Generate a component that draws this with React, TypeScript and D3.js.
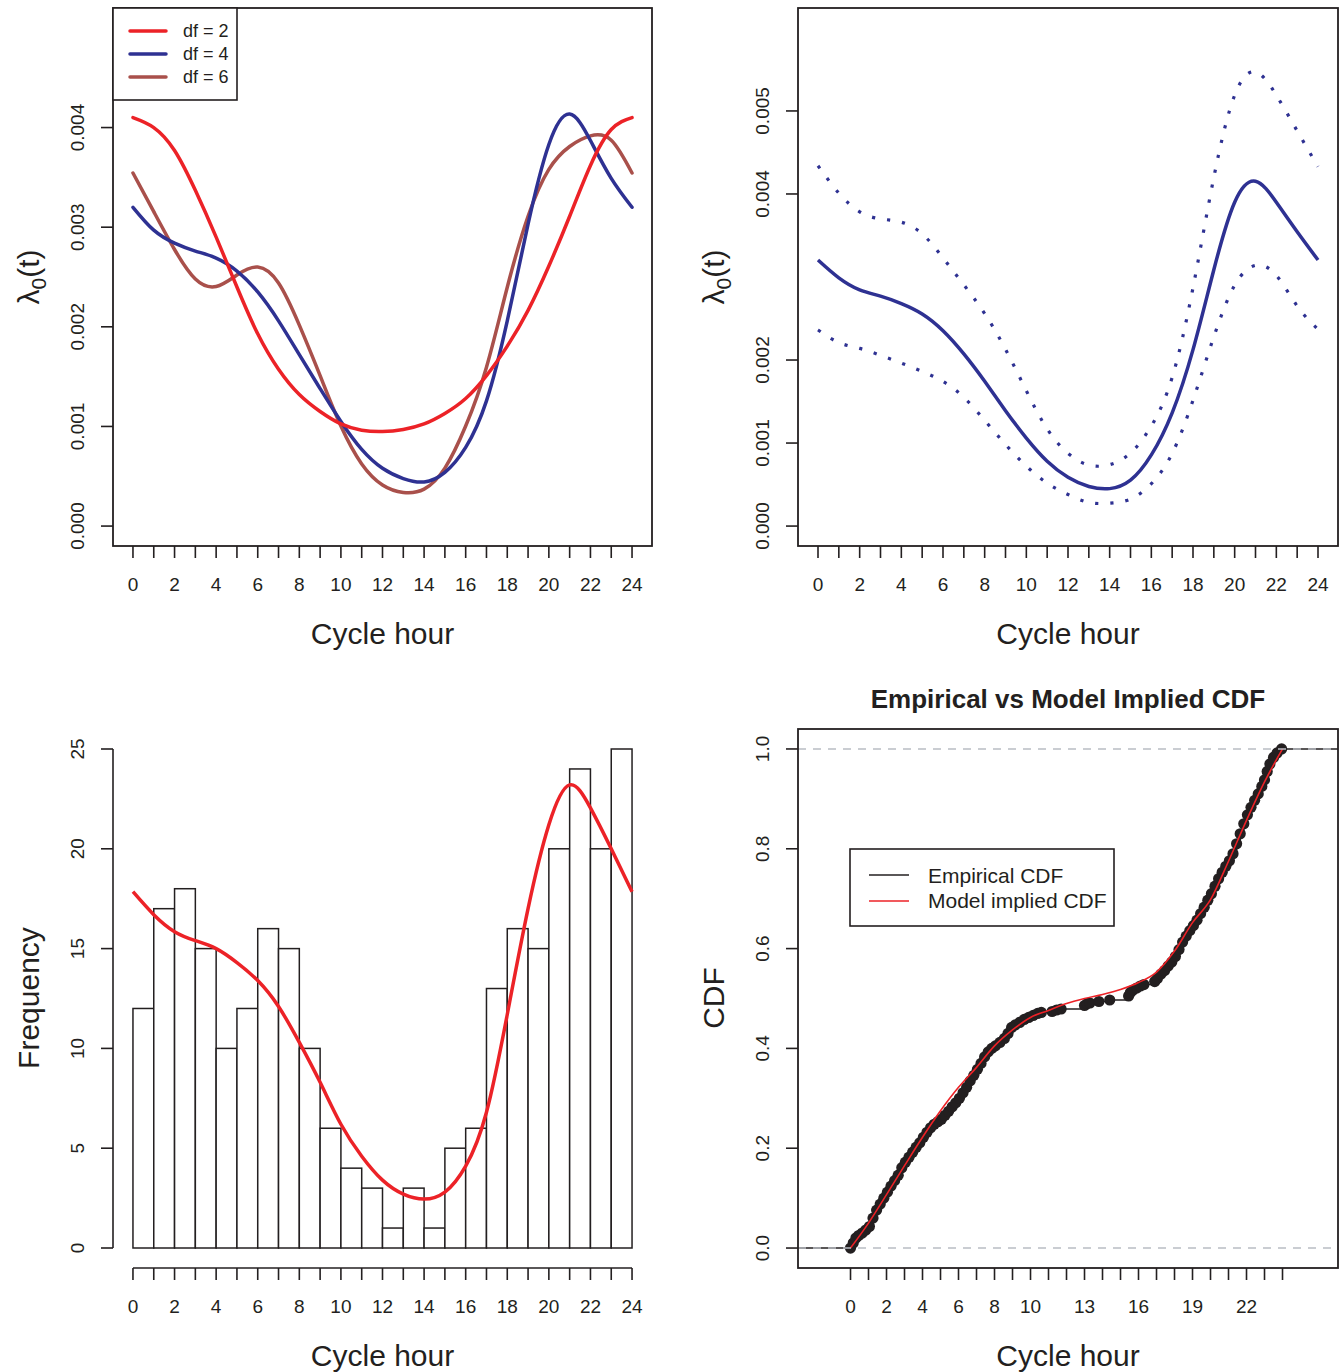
import React from 'react';
import * as d3 from 'd3';

const FONT = '"Liberation Sans", Arial, Helvetica, sans-serif';
const RED = '#EC2227';
const BLUE = '#2E3192';
const BROWN = '#A9504B';
const INK = '#231F20';

// hours 0..24 (tick positions) and which get a label
const hours = [0, 1, 2, 3, 4, 5, 6, 7, 8, 9, 10, 11, 12, 13, 14, 15, 16, 17, 18, 19, 20, 21, 22, 23, 24];
const evenHours = [0, 2, 4, 6, 8, 10, 12, 14, 16, 18, 20, 22, 24];
const cdfHourLabels = [0, 2, 4, 6, 8, 10, 13, 16, 19, 22];

// panel 1: baseline hazard for different df
const lambdaDf2 = [0.00410, 0.00400, 0.00377, 0.00337, 0.00290, 0.00240, 0.00193, 0.001574, 0.00132, 0.00115, 0.001025, 0.000962, 0.000949, 0.00097, 0.001025, 0.00113, 0.00128, 0.00151, 0.001806, 0.002165, 0.00261, 0.00311, 0.00362, 0.00398, 0.00410];
const lambdaDf4 = [0.00320, 0.00297, 0.00284, 0.00276, 0.00269, 0.00256, 0.00235, 0.00206, 0.00172, 0.00138, 0.00105, 0.00077, 0.00058, 0.000477, 0.000443, 0.00054, 0.00079, 0.001257, 0.00206, 0.00303, 0.00383, 0.004135, 0.00387, 0.00349, 0.00320];
const lambdaDf6 = [0.003544, 0.003156, 0.002776, 0.00248, 0.002405, 0.00252, 0.00260, 0.00244, 0.002017, 0.00151, 0.001004, 0.000624, 0.000413, 0.000338, 0.000371, 0.000582, 0.001004, 0.001595, 0.002397, 0.00311, 0.00358, 0.00381, 0.003916, 0.003873, 0.003544];
const lambdaTicks1 = [0, 0.001, 0.002, 0.003, 0.004];

// panel 2: estimate with pointwise band
const lambdaFit = [0.003205, 0.00299, 0.002845, 0.00277, 0.00268, 0.002555, 0.002353, 0.002074, 0.001744, 0.00139, 0.00106, 0.000781, 0.000588, 0.000477, 0.000451, 0.000553, 0.000857, 0.001364, 0.002125, 0.003088, 0.0039, 0.004153, 0.0039, 0.003545, 0.003205];
const lambdaUpper = [0.00434, 0.00401, 0.003785, 0.0037, 0.00366, 0.00352, 0.00323, 0.002905, 0.00256, 0.00213, 0.00163, 0.00117, 0.000877, 0.000735, 0.00074, 0.00088, 0.001205, 0.00179, 0.00287, 0.0042, 0.00519, 0.00547, 0.00519, 0.00476, 0.00433];
const lambdaLower = [0.002363, 0.00221, 0.00214, 0.002057, 0.001963, 0.001862, 0.001742, 0.00155, 0.001273, 0.000983, 0.000722, 0.000517, 0.00038, 0.000285, 0.000276, 0.000325, 0.00051, 0.000875, 0.001515, 0.00228, 0.0029, 0.00314, 0.00302, 0.00265, 0.00237];
const lambdaTicks2 = [0, 0.001, 0.002, 0.004, 0.005];

// panel 3: histogram of event hours, one count per hour bin
const binCounts = [12, 17, 18, 15, 10, 12, 16, 15, 10, 6, 4, 3, 1, 3, 1, 5, 6, 13, 16, 15, 20, 24, 20, 25];
const fittedFreq = [17.85, 16.7, 15.85, 15.4, 15.0, 14.3, 13.4, 12.1, 10.3, 8.3, 6.2, 4.6, 3.4, 2.7, 2.45, 2.8, 4.1, 6.8, 11.7, 17.0, 21.2, 23.2, 22.05, 20.0, 17.85];
const freqTicks = [0, 5, 10, 15, 20, 25];

// panel 4: empirical cdf knots and model cdf
const ecdfHours = [0.0, 0.15, 0.3, 0.45, 0.65, 0.85, 1.05, 1.25, 1.45, 1.65, 1.85, 2.05, 2.25, 2.45, 2.65, 2.85, 3.05, 3.25, 3.45, 3.65, 3.85, 4.05, 4.25, 4.45, 4.65, 4.85, 5.05, 5.25, 5.45, 5.65, 5.85, 6.05, 6.25, 6.45, 6.65, 6.85, 7.05, 7.25, 7.45, 7.65, 7.85, 8.05, 8.3, 8.55, 8.75, 8.95, 9.15, 9.4, 9.65, 9.9, 10.15, 10.4, 10.6, 11.2, 11.45, 11.7, 13.0, 13.15, 13.3, 13.8, 14.4, 15.45, 15.55, 15.7, 15.9, 16.1, 16.3, 16.9, 17.05, 17.25, 17.45, 17.65, 17.85, 18.05, 18.25, 18.45, 18.65, 18.85, 19.05, 19.25, 19.45, 19.65, 19.85, 20.05, 20.25, 20.45, 20.65, 20.85, 21.05, 21.25, 21.45, 21.65, 21.85, 22.05, 22.25, 22.45, 22.65, 22.85, 23.0, 23.15, 23.3, 23.5, 23.7, 23.95];
const ecdfValues = [0.0, 0.01, 0.02, 0.025, 0.03, 0.036, 0.043, 0.06, 0.076, 0.088, 0.1, 0.112, 0.124, 0.135, 0.146, 0.161, 0.172, 0.182, 0.192, 0.202, 0.211, 0.222, 0.232, 0.241, 0.248, 0.253, 0.258, 0.266, 0.274, 0.283, 0.291, 0.3, 0.311, 0.322, 0.335, 0.346, 0.358, 0.37, 0.383, 0.393, 0.4, 0.405, 0.412, 0.42, 0.43, 0.442, 0.447, 0.452, 0.458, 0.462, 0.466, 0.47, 0.472, 0.474, 0.477, 0.479, 0.486, 0.49, 0.491, 0.494, 0.497, 0.505, 0.512, 0.517, 0.521, 0.525, 0.528, 0.534, 0.54, 0.549, 0.556, 0.565, 0.573, 0.584, 0.598, 0.613, 0.625, 0.636, 0.646, 0.657, 0.67, 0.683, 0.697, 0.71, 0.725, 0.74, 0.753, 0.765, 0.776, 0.79, 0.81, 0.83, 0.85, 0.868, 0.883, 0.897, 0.91, 0.925, 0.938, 0.955, 0.97, 0.983, 0.992, 1.0];
const modelCdf = [0, 0.05, 0.107, 0.165, 0.222, 0.275, 0.322, 0.362, 0.405, 0.437, 0.462, 0.476, 0.49, 0.5, 0.508, 0.518, 0.532, 0.553, 0.595, 0.652, 0.698, 0.775, 0.857, 0.934, 1.0];
const cdfTicks = [0, 0.2, 0.4, 0.6, 0.8, 1.0];

const legend1 = [
  { label: 'df = 2', color: RED },
  { label: 'df = 4', color: BLUE },
  { label: 'df = 6', color: BROWN },
];
const legend4 = [
  { label: 'Empirical CDF', color: INK },
  { label: 'Model implied CDF', color: RED },
];

const TICK = 12;

function XTicks({ x, y, ticks, labels, fmt = (d: number) => String(d) }: any) {
  return (
    <g>
      {ticks.map((t: number) => (
        <line key={'t' + t} x1={x(t)} x2={x(t)} y1={y} y2={y + TICK} stroke={INK} strokeWidth={1.6} />
      ))}
      {labels.map((t: number) => (
        <text key={'l' + t} x={x(t)} y={y + 45} textAnchor="middle" fontSize={19} fill={INK}>
          {fmt(t)}
        </text>
      ))}
    </g>
  );
}

function YTicks({ y, x0, ticks, fmt }: any) {
  return (
    <g>
      {ticks.map((t: number) => (
        <g key={t}>
          <line x1={x0 - TICK} x2={x0} y1={y(t)} y2={y(t)} stroke={INK} strokeWidth={1.6} />
          <text transform={`translate(${x0 - 29},${y(t)}) rotate(-90)`} textAnchor="middle" fontSize={19} fill={INK}>
            {fmt(t)}
          </text>
        </g>
      ))}
    </g>
  );
}

function LambdaLabel({ x, y }: any) {
  return (
    <text transform={`translate(${x},${y}) rotate(-90)`} textAnchor="middle" fontSize={30} fill={INK}>
      λ<tspan fontSize={21} dy={7}>0</tspan>
      <tspan dy={-7}>(t)</tspan>
    </text>
  );
}

function XTitle({ x, y }: any) {
  return (
    <text x={x} y={y} textAnchor="middle" fontSize={30} fill={INK}>
      Cycle hour
    </text>
  );
}

export default function App() {
  // panel 1
  const x1 = d3.scaleLinear().domain([-0.96, 24.96]).range([113, 652]);
  const y1 = d3.scaleLinear().domain([-0.0002, 0.0052]).range([546, 8]);
  const line1 = (vals: number[]) =>
    d3.line<number>().x((_, i) => x1(hours[i])).y((d) => y1(d)).curve(d3.curveNatural)(vals) as string;

  // panel 2
  const x2 = d3.scaleLinear().domain([-0.96, 24.96]).range([798, 1338]);
  const y2 = d3.scaleLinear().domain([-0.00024, 0.00624]).range([546, 8]);
  const line2 = (vals: number[]) =>
    d3.line<number>().x((_, i) => x2(hours[i])).y((d) => y2(d)).curve(d3.curveNatural)(vals) as string;

  // panel 3
  const x3 = x1;
  const y3 = d3.scaleLinear().domain([0, 25]).range([1248, 749]);
  const line3 = d3.line<number>().x((_, i) => x3(hours[i])).y((d) => y3(d)).curve(d3.curveNatural)(fittedFreq) as string;

  // panel 4
  const x4 = d3.scaleLinear().domain([-2.917, 27.083]).range([798, 1338]);
  const y4 = d3.scaleLinear().domain([-0.04, 1.04]).range([1268, 729]);
  const [xl, xr] = x4.domain();
  const stepPts: [number, number][] = [[xl, 0], ...ecdfHours.map((h, i) => [h, ecdfValues[i]] as [number, number]), [xr, 1]];
  const stepPath = d3.line().x((d) => x4(d[0])).y((d) => y4(d[1])).curve(d3.curveStepAfter)(stepPts) as string;
  const modelPath = d3.line<number>().x((_, i) => x4(hours[i])).y((d) => y4(d)).curve(d3.curveMonotoneX)(modelCdf) as string;

  const fmt3 = (d: number) => d.toFixed(3);

  return (
    <svg
      width={1339}
      height={1372}
      style={{ position: 'absolute', left: 0, top: 0, fontFamily: FONT }}
      fontFamily={FONT}
    >
      <rect width={1339} height={1372} fill="#fff" />

      {/* ---------- panel 1 ---------- */}
      <g fill="none" strokeWidth={3.5} strokeLinecap="round">
        <path d={line1(lambdaDf6)} stroke={BROWN} />
        <path d={line1(lambdaDf4)} stroke={BLUE} />
        <path d={line1(lambdaDf2)} stroke={RED} />
      </g>
      <rect x={113} y={8} width={539} height={538} fill="none" stroke={INK} strokeWidth={1.8} />
      <XTicks x={x1} y={546} ticks={hours} labels={evenHours} />
      <YTicks y={y1} x0={113} ticks={lambdaTicks1} fmt={fmt3} />
      <LambdaLabel x={39} y={277} />
      <XTitle x={382.5} y={644} />
      <rect x={113} y={8} width={124} height={92} fill="#fff" stroke={INK} strokeWidth={1.6} />
      {legend1.map((d, i) => (
        <g key={d.label}>
          <line x1={130} x2={166} y1={31 + i * 23} y2={31 + i * 23} stroke={d.color} strokeWidth={3.5} strokeLinecap="round" />
          <text x={183} y={37 + i * 23} fontSize={18} fill={INK}>
            {d.label}
          </text>
        </g>
      ))}

      {/* ---------- panel 2 ---------- */}
      <g fill="none" stroke={BLUE}>
        <path d={line2(lambdaFit)} strokeWidth={3.5} />
        <path d={line2(lambdaUpper)} strokeWidth={3.2} strokeDasharray="3.2 12" />
        <path d={line2(lambdaLower)} strokeWidth={3.2} strokeDasharray="3.2 12" />
      </g>
      <rect x={798} y={8} width={540} height={538} fill="none" stroke={INK} strokeWidth={1.8} />
      <XTicks x={x2} y={546} ticks={hours} labels={evenHours} />
      <YTicks y={y2} x0={798} ticks={lambdaTicks2} fmt={fmt3} />
      <LambdaLabel x={724} y={277} />
      <XTitle x={1068} y={644} />

      {/* ---------- panel 3 ---------- */}
      <g fill="#fff" stroke={INK} strokeWidth={1.5}>
        {binCounts.map((c, i) => (
          <rect key={i} x={x3(hours[i])} y={y3(c)} width={x3(hours[i + 1]) - x3(hours[i])} height={y3(0) - y3(c)} />
        ))}
      </g>
      <path d={line3} fill="none" stroke={RED} strokeWidth={3.5} />
      <line x1={113} x2={113} y1={y3(0)} y2={y3(25)} stroke={INK} strokeWidth={1.6} />
      <YTicks y={y3} x0={113} ticks={freqTicks} fmt={(d: number) => String(d)} />
      <line x1={x3(0)} x2={x3(24)} y1={1268} y2={1268} stroke={INK} strokeWidth={1.6} />
      <XTicks x={x3} y={1268} ticks={hours} labels={evenHours} />
      <text transform="translate(39,998) rotate(-90)" textAnchor="middle" fontSize={30} fill={INK}>
        Frequency
      </text>
      <XTitle x={382.5} y={1366} />

      {/* ---------- panel 4 ---------- */}
      <path d={stepPath} fill="none" stroke={INK} strokeWidth={1.6} />
      <g fill={INK}>
        {ecdfHours.map((h, i) => (
          <circle key={i} cx={x4(h)} cy={y4(ecdfValues[i])} r={5.6} />
        ))}
      </g>
      <path d={modelPath} fill="none" stroke={RED} strokeWidth={1.6} />
      {[0, 1].map((v) => (
        <line key={v} x1={798} x2={1338} y1={y4(v)} y2={y4(v)} stroke="#B9BDC3" strokeWidth={1.6} strokeDasharray="8 7" />
      ))}
      <rect x={798} y={729} width={540} height={539} fill="none" stroke={INK} strokeWidth={1.8} />
      <XTicks x={x4} y={1268} ticks={hours} labels={cdfHourLabels} />
      <YTicks y={y4} x0={798} ticks={cdfTicks} fmt={(d: number) => d.toFixed(1)} />
      <text transform="translate(724,998) rotate(-90)" textAnchor="middle" fontSize={30} fill={INK}>
        CDF
      </text>
      <XTitle x={1068} y={1366} />
      <text x={1068} y={708} textAnchor="middle" fontSize={26} fontWeight="bold" fill={INK}>
        Empirical vs Model Implied CDF
      </text>
      <rect x={850} y={849} width={264} height={77} fill="#fff" stroke={INK} strokeWidth={1.6} />
      {legend4.map((d, i) => (
        <g key={d.label}>
          <line x1={869} x2={909} y1={875 + i * 26} y2={875 + i * 26} stroke={d.color} strokeWidth={1.6} />
          <text x={928} y={883 + i * 25} fontSize={21} fill={INK}>
            {d.label}
          </text>
        </g>
      ))}
    </svg>
  );
}
